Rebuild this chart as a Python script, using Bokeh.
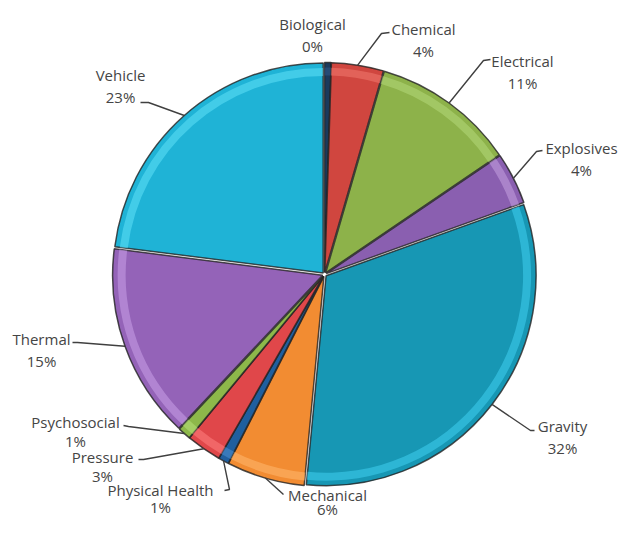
import numpy as np
from bokeh.plotting import figure
from bokeh.models import Range1d, ColumnDataSource
from bokeh.core.properties import value
from bokeh.embed import file_html
from bokeh.resources import INLINE

# ---- data ----
categories = ["Biological", "Chemical", "Electrical", "Explosives", "Gravity",
              "Mechanical", "Physical Health", "Pressure", "Psychosocial",
              "Thermal", "Vehicle"]
shares = [0.5, 4, 11, 4, 32, 6, 0.8, 2.7, 1, 15, 23]
pct_labels = ["0%", "4%", "11%", "4%", "32%", "6%", "1%", "3%", "1%", "15%", "23%"]

# ---- styles ----
colors = ["#1b3a5c", "#d0463f", "#8db24a", "#8a5fb0", "#1797b4", "#f28c32",
          "#1f5f9f", "#e0474a", "#8db84a", "#9463b8", "#1fb3d6"]
light = ["#2f5a8a", "#f07a70", "#b5d87a", "#c4a0e0", "#40d0f0", "#ffb870",
         "#4f8fcf", "#ff8080", "#b8e07a", "#c9a0e8", "#5ee0f8"]

# layout (reference pixel coordinates, y down)
label_x = [312, 423, 522, 581, 562, 327, 160, 102, 75, 41, 120]
label_y = [23, 28, 60, 147, 425, 494, 489, 456, 421, 338, 74]
pct_gap = [22, 22, 22, 22, 22, 14, 17, 19, 19, 22, 22]
elbow = [None, (381, 33), (483, 60), (536, 151), (530, 430), (283, 494),
         (229, 489), (143, 459), (128, 426), (77, 342), (148, 102)]
tail = [None, (389, 32), (490, 59), (542, 150), (534, 430), (283, 494),
        (224, 490), (138, 459), (123, 425), (72, 342), (140, 102)]

CX, CY, R, EXPL = 324, 274, 210, 2
W, H = 622, 517
Y = lambda y: 533 - y

p = figure(width=W, height=H, x_range=Range1d(0, W), y_range=Range1d(533 - H, 533),
           output_backend="svg", toolbar_location=None, min_border=0)
p.axis.visible = False
p.grid.visible = False
p.outline_line_color = None
p.background_fill_color = "white"
p.border_fill_color = "white"

vals = np.array(shares, dtype=float)
fr = vals / vals.sum()
cum = np.concatenate([[0], np.cumsum(fr)])
start_t = np.pi / 2 - 2 * np.pi * cum[:-1]
end_t = np.pi / 2 - 2 * np.pi * cum[1:]
mid = 2 * np.pi * (cum[:-1] + cum[1:]) / 2  # clockwise from top

cx = CX + EXPL * np.sin(mid)
cy = Y(CY) + EXPL * np.cos(mid)

src = ColumnDataSource(dict(x=cx, y=cy, s=end_t, e=start_t, c=colors, l=light))
p.wedge(x="x", y="y", radius=R, start_angle="s", end_angle="e", fill_color="c",
        line_color="#222222", line_alpha=0.8, line_width=1.5, source=src)
p.annular_wedge(x="x", y="y", inner_radius=R - 13, outer_radius=R - 5,
                start_angle="s", end_angle="e", fill_color="l", fill_alpha=0.55,
                line_color=None, source=src)

# leader lines
xs, ys = [], []
for i in range(len(categories)):
    if elbow[i] is None:
        continue
    sx = CX + (R + 2) * np.sin(mid[i])
    sy = CY - (R + 2) * np.cos(mid[i])
    xs.append([sx, elbow[i][0], tail[i][0]])
    ys.append([Y(sy), Y(elbow[i][1]), Y(tail[i][1])])
p.multi_line(xs=xs, ys=ys, line_color="#404040", line_width=1.4)

font = value("Open Sans")
p.text(x=label_x, y=[Y(v) for v in label_y], text=categories,
       text_font=font, text_font_size="15px", text_color="#454545",
       text_align="center", text_baseline="middle")
p.text(x=label_x, y=[Y(v + g) for v, g in zip(label_y, pct_gap)], text=pct_labels,
       text_font=font, text_font_size="15px", text_color="#454545",
       text_align="center", text_baseline="middle")

open("out.html", "w").write(file_html(p, INLINE))
